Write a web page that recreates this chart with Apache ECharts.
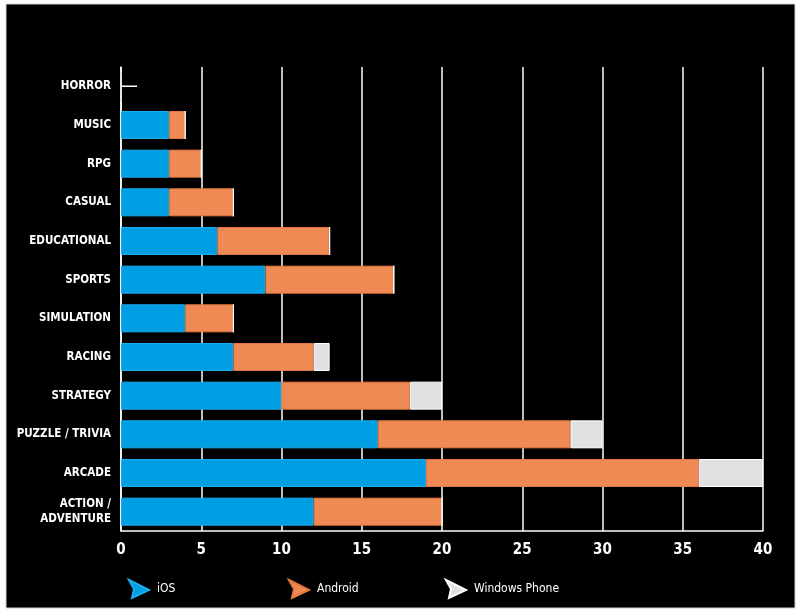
<!DOCTYPE html>
<html>
<head>
<meta charset="utf-8">
<script src="https://cdn.jsdelivr.net/npm/echarts@6/dist/echarts.min.js"></script>
<style>
  html, body { margin: 0; padding: 0; background: #fff; }
  #chart { width: 800px; height: 615px; }
</style>
</head>
<body>
<div id="chart"></div>
<script>
// categories listed bottom to top (category y axis starts at the bottom)
var categories = ['ACTION /\nADVENTURE', 'ARCADE', 'PUZZLE / TRIVIA', 'STRATEGY', 'RACING',
  'SIMULATION', 'SPORTS', 'EDUCATIONAL', 'CASUAL', 'RPG', 'MUSIC', 'HORROR'];
var iosData     = [12, 19, 16, 10, 7, 4, 9, 6, 3, 3, 3, 0];
var androidData = [8, 17, 12, 8, 5, 3, 8, 7, 4, 2, 1, 0];
var wpData      = [0, 4, 2, 2, 1, 0, 0, 0, 0, 0, 0, 0];
// horror only shows a thin tick from 0 to 1
var horrorLine  = [[0, 'HORROR'], [1, 'HORROR']];
var xTicks = [0, 5, 10, 15, 20, 25, 30, 35, 40];

var arrowIcon = 'path://M0,0 L20,10 L3,18 L5,9 Z';
var fontFam = 'DejaVu Sans Condensed';

function legendAt(name, left) {
  return {
    data: [name],
    left: left,
    top: 574,
    icon: arrowIcon,
    itemWidth: 20,
    itemHeight: 18,
    selectedMode: false,
    textStyle: { color: '#fff', fontSize: 12, fontFamily: fontFam, padding: [0, 0, 0, 3] }
  };
}

var option = {
  backgroundColor: 'transparent',
  animation: false,
  graphic: [{
    type: 'rect',
    z: -100,
    silent: true,
    shape: { x: 6, y: 4, width: 789, height: 604 },
    style: { fill: '#000', stroke: '#d0d0d0', lineWidth: 1 }
  }],
  legend: [
    legendAt('iOS', 123),
    legendAt('Android', 283),
    legendAt('Windows Phone', 440)
  ],
  grid: { left: 121, right: 37, top: 67, bottom: 84, containLabel: false },
  xAxis: {
    type: 'value',
    min: 0,
    max: 40,
    interval: 5,
    axisLine: { show: true, lineStyle: { color: '#fff', width: 1.5 } },
    axisTick: { show: false },
    splitLine: { show: true, lineStyle: { color: '#fff', width: 1.5 } },
    axisLabel: {
      color: '#fff', fontSize: 15, fontWeight: 'bold', fontFamily: fontFam, margin: 12,
      formatter: function (v) { return xTicks.indexOf(v) >= 0 ? String(v) : ''; }
    }
  },
  yAxis: {
    type: 'category',
    data: categories,
    axisLine: { show: true, lineStyle: { color: '#fff', width: 1.5 } },
    axisTick: { show: false },
    splitLine: { show: false },
    axisLabel: {
      color: '#fff', fontSize: 11.5, fontWeight: 'bold', fontFamily: fontFam,
      margin: 10, lineHeight: 15, align: 'right', padding: [5, 0, 0, 0]
    }
  },
  series: [
    {
      name: 'iOS', type: 'bar', stack: 'os', barWidth: 28, data: iosData,
      itemStyle: { color: '#009fe3', borderColor: '#1aaeee', borderWidth: 1 }
    },
    {
      name: 'Android', type: 'bar', stack: 'os', barWidth: 28, data: androidData,
      itemStyle: { color: '#f08a55', borderColor: '#e57a42', borderWidth: 1 }
    },
    {
      name: 'Windows Phone', type: 'bar', stack: 'os', barWidth: 28, data: wpData,
      itemStyle: { color: '#e1e1e1', borderColor: '#ffffff', borderWidth: 1 }
    },
    {
      name: 'horror', type: 'line', data: horrorLine, symbol: 'none',
      lineStyle: { color: '#fff', width: 1.5 }, z: 5
    }
  ]
};

var chart = echarts.init(document.getElementById('chart'));
chart.setOption(option);
</script>
</body>
</html>
